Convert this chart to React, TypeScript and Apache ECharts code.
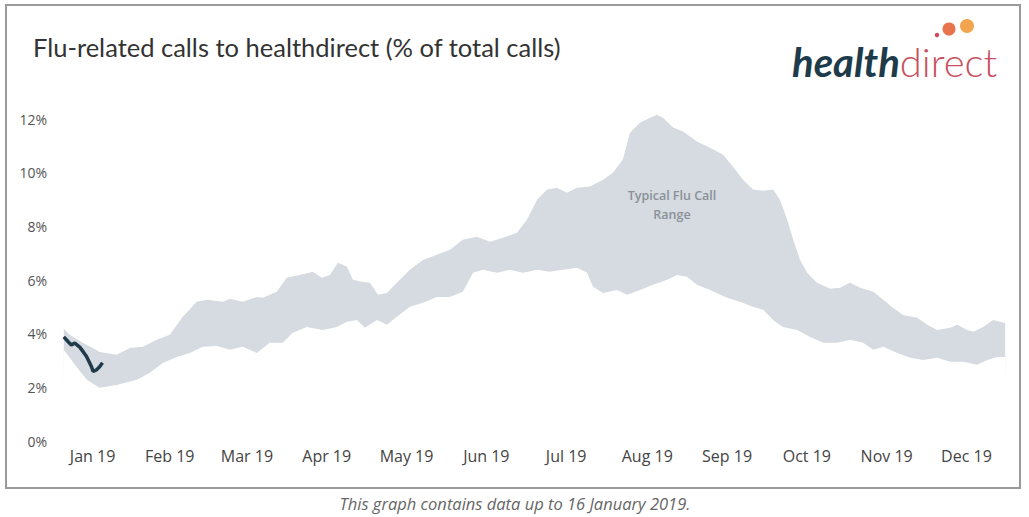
import React, { useEffect, useRef } from "react";
import * as echarts from "echarts";

const monthLabels = ["Jan 19", "Feb 19", "Mar 19", "Apr 19", "May 19", "Jun 19", "Jul 19", "Aug 19", "Sep 19", "Oct 19", "Nov 19", "Dec 19"];
const monthMidDays = [15.5, 45, 74.5, 105, 135.5, 166, 196.5, 227.5, 258, 288.5, 319, 349.5];
const yTicks = [0, 2, 4, 6, 8, 10, 12];

// Upper edge of the typical flu call range (day of year, % of calls)
const upperDays = [4.5, 6.8, 11.7, 15.6, 18.2, 24.7, 29.7, 34.7, 40.1, 45.0, 50.0, 55.3, 59.2, 65.3, 68.0, 72.9, 78.3, 80.6, 85.9, 89.7, 94.7, 99.7, 103.1, 106.2, 109.3, 112.7, 115.0, 118.8, 121.5, 124.6, 128.0, 131.8, 136.8, 141.8, 147.1, 152.1, 157.0, 162.4, 167.4, 172.3, 177.7, 181.5, 185.4, 189.2, 193.0, 196.8, 200.7, 205.6, 210.6, 214.4, 218.2, 220.9, 224.8, 228.6, 231.2, 233.5, 237.4, 241.2, 246.5, 251.5, 256.5, 260.3, 264.1, 267.9, 271.8, 275.6, 278.2, 281.0, 283.3, 285.9, 288.6, 292.4, 297.4, 301.2, 305.0, 308.9, 313.9, 317.7, 321.5, 325.3, 330.7, 334.5, 338.3, 343.3, 346.0, 349.8, 352.1, 355.9, 359.7, 362.4, 364.3];
const upperVals = [4.18, 3.96, 3.66, 3.47, 3.32, 3.21, 3.47, 3.51, 3.77, 3.96, 4.63, 5.19, 5.26, 5.19, 5.30, 5.19, 5.37, 5.34, 5.56, 6.08, 6.19, 6.31, 6.08, 6.19, 6.64, 6.49, 6.01, 5.93, 5.90, 5.45, 5.52, 5.90, 6.38, 6.75, 6.94, 7.13, 7.50, 7.61, 7.43, 7.57, 7.76, 8.25, 8.99, 9.37, 9.44, 9.25, 9.44, 9.48, 9.74, 10.00, 10.49, 11.49, 11.87, 12.05, 12.16, 12.05, 11.68, 11.53, 11.16, 10.93, 10.67, 10.22, 9.74, 9.37, 9.33, 9.37, 8.99, 8.25, 7.50, 6.75, 6.27, 5.90, 5.67, 5.71, 5.90, 5.71, 5.56, 5.26, 4.96, 4.70, 4.59, 4.33, 4.14, 4.22, 4.33, 4.14, 4.07, 4.25, 4.51, 4.44, 4.40];

// Lower edge of the typical flu call range
const lowerDays = [4.5, 9.4, 13.3, 18.2, 24.7, 32.4, 37.4, 42.3, 47.7, 52.7, 57.6, 63.0, 68.0, 72.9, 78.3, 83.2, 88.2, 92.0, 97.4, 103.5, 108.9, 112.7, 116.5, 119.6, 124.2, 128.0, 131.8, 136.8, 141.8, 147.1, 152.1, 157.0, 160.9, 164.7, 170.1, 175.0, 180.0, 185.4, 190.3, 195.3, 200.7, 204.5, 206.8, 210.6, 215.9, 219.8, 224.8, 229.7, 235.1, 238.9, 242.7, 246.5, 251.5, 258.0, 262.9, 267.9, 271.8, 275.6, 279.4, 284.8, 289.8, 294.8, 300.1, 305.0, 310.0, 313.9, 317.7, 323.1, 328.0, 333.0, 338.3, 343.3, 348.3, 353.6, 357.5, 361.3, 364.3];
const lowerVals = [3.40, 2.76, 2.28, 1.98, 2.09, 2.28, 2.54, 2.91, 3.13, 3.28, 3.51, 3.54, 3.40, 3.51, 3.28, 3.66, 3.66, 4.03, 4.25, 4.14, 4.25, 4.44, 4.51, 4.22, 4.51, 4.33, 4.63, 5.00, 5.15, 5.37, 5.37, 5.56, 6.27, 6.38, 6.27, 6.38, 6.27, 6.38, 6.31, 6.38, 6.46, 6.27, 5.75, 5.52, 5.63, 5.45, 5.63, 5.82, 6.01, 6.19, 6.12, 5.82, 5.63, 5.34, 5.19, 5.00, 4.89, 4.51, 4.25, 4.14, 3.88, 3.66, 3.66, 3.77, 3.66, 3.40, 3.51, 3.28, 3.10, 3.02, 3.10, 2.95, 2.95, 2.84, 3.02, 3.13, 3.13];

// 2019 flu-related calls (data up to 16 January 2019)
const actualDays = [4.5, 6.1, 7.4, 8.7, 10.6, 11.9, 13.2, 15.1, 15.7, 17.0, 18.2, 19.3];
const actualVals = [3.88, 3.71, 3.58, 3.65, 3.50, 3.33, 3.15, 2.77, 2.59, 2.65, 2.77, 2.92];

const zip = (xs: number[], ys: number[]) => xs.map((x, i) => [x, ys[i]]);

export default function App() {
  const ref = useRef<HTMLDivElement>(null);
  useEffect(() => {
    document.body.style.margin = "0";
    const chart = echarts.init(ref.current!, null, { renderer: "svg" });
    // white mask under the lower edge, widened slightly to hide anti-aliased edges
    const maskData = [
      [lowerDays[0] - 0.6, 0],
      ...zip(lowerDays, lowerVals),
      [lowerDays[lowerDays.length - 1] + 0.6, 0],
    ];
    chart.setOption({
      animation: false,
      backgroundColor: "#ffffff",
      grid: { left: 52, right: 22, top: 119, bottom: 76, containLabel: false },
      xAxis: {
        type: "value",
        min: 0,
        max: 365,
        axisLine: { show: false },
        axisTick: { show: false },
        splitLine: { show: false },
        axisLabel: {
          customValues: monthMidDays,
          formatter: (v: number) => {
            const i = monthMidDays.indexOf(v);
            return i >= 0 ? monthLabels[i] : "";
          },
          color: "#444",
          fontFamily: "Open Sans",
          fontSize: 16,
          margin: 7,
        },
      },
      yAxis: {
        type: "value",
        min: yTicks[0],
        max: yTicks[yTicks.length - 1],
        interval: 2,
        axisLine: { show: false },
        axisTick: { show: false },
        splitLine: { show: false },
        axisLabel: {
          formatter: "{value}%",
          color: "#555",
          fontFamily: "Open Sans",
          fontSize: 14,
          margin: 5,
        },
      },
      series: [
        {
          type: "line",
          data: zip(upperDays, upperVals),
          symbol: "none",
          clip: false,
          lineStyle: { width: 0 },
          areaStyle: { color: "#d5dbe0", opacity: 1 },
          z: 1,
        },
        {
          type: "line",
          data: maskData,
          symbol: "none",
          clip: false,
          lineStyle: { width: 0 },
          areaStyle: { color: "#ffffff", opacity: 1 },
          z: 2,
        },
        {
          type: "line",
          data: zip(actualDays, actualVals),
          symbol: "none",
          lineStyle: { width: 3.5, color: "#1f3a48" },
          z: 3,
        },
      ],
      graphic: [
        {
          type: "rect",
          shape: { x: 6, y: 5, width: 1014, height: 483 },
          style: { fill: "none", stroke: "#9a9a9a", lineWidth: 2 },
          z: 0,
          silent: true,
        },
        {
          type: "text",
          x: 33,
          y: 47,
          style: {
            text: "Flu-related calls to healthdirect (% of total calls)",
            fill: "#333",
            font: "25.5px Lato",
            textVerticalAlign: "middle",
          },
        },
        {
          type: "text",
          x: 792,
          y: 62,
          style: {
            text: "{a|health}{b|direct}",
            textVerticalAlign: "middle",
            rich: {
              a: { fontFamily: "Lato", fontSize: 40, fontWeight: "bold", fontStyle: "italic", fill: "#1e3b4b", color: "#1e3b4b" },
              b: { fontFamily: "Lato", fontSize: 40, fontWeight: 300, fill: "#c8505f", color: "#c8505f" },
            },
          },
        },
        { type: "circle", shape: { cx: 937, cy: 35, r: 2.2 }, style: { fill: "#d5485a" } },
        { type: "circle", shape: { cx: 949, cy: 29, r: 6.5 }, style: { fill: "#e8744e" } },
        { type: "circle", shape: { cx: 967, cy: 26, r: 7 }, style: { fill: "#f2a44e" } },
        {
          type: "text",
          x: 672,
          y: 205,
          z: 10,
          style: {
            text: "Typical Flu Call\nRange",
            fill: "#8a9099",
            font: "600 12.5px 'Open Sans'",
            textAlign: "center",
            textVerticalAlign: "middle",
            lineHeight: 19,
          },
        },
        {
          type: "text",
          x: 515,
          y: 503,
          style: {
            text: "This graph contains data up to 16 January 2019.",
            fill: "#666",
            font: "italic 16.5px 'Open Sans'",
            textAlign: "center",
            textVerticalAlign: "middle",
          },
        },
      ],
    });
    return () => chart.dispose();
  }, []);
  return <div ref={ref} style={{ width: 1029, height: 517 }} />;
}
